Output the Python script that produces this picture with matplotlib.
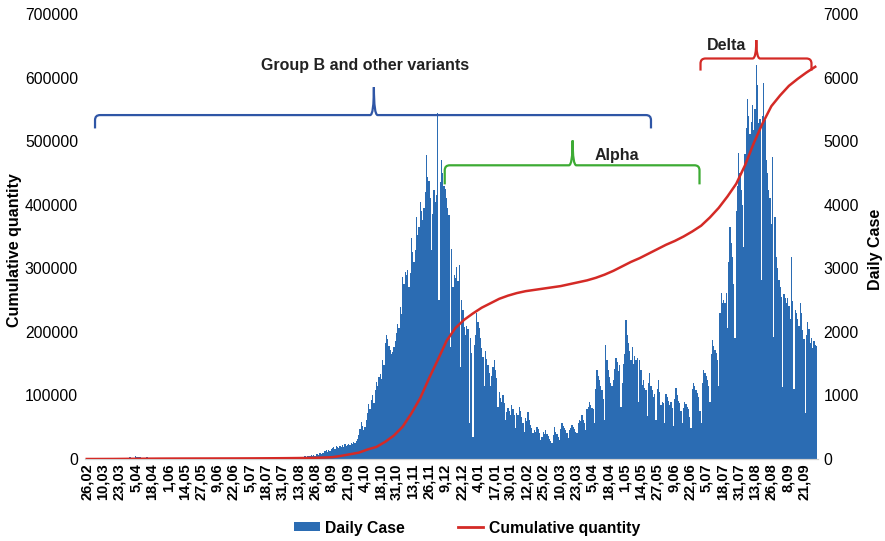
import numpy as np
import matplotlib
matplotlib.use("Agg")
import matplotlib.pyplot as plt
from matplotlib.path import Path
from matplotlib.patches import PathPatch, Patch
from matplotlib.lines import Line2D

plt.rcParams['font.family'] = ['Liberation Sans', 'DejaVu Sans']

# Date labels shown every 13 days along the x axis
tick_labels = [
    "26,02", "10,03", "23,03", "5,04", "18,04", "1,06", "14,05", "27,05", "9,06",
    "22,06", "5,07", "18,07", "31,07", "13,08", "26,08", "8,09", "21,09", "4,10",
    "18,10", "31,10", "13,11", "26,11", "9,12", "22,12", "4,01", "17,01", "30,01",
    "12,02", "25,02", "10,03", "23,03", "5,04", "18,04", "1,05", "14,05", "27,05",
    "9,06", "22,06", "5,07", "18,07", "31,07", "13,08", "26,08", "8,09", "21,09",
]

# Daily new cases, one row per week starting 26 Feb 2020
daily_cases = [
    1, 0, 0, 0, 0, 1, 0,
    0, 1, 2, 3, 2, 5, 4,
    3, 5, 1, 4, 7, 8, 5,
    11, 6, 9, 12, 6, 11, 14,
    20, 16, 11, 23, 19, 21, 24,
    38, 23, 21, 18, 40, 33, 27,
    24, 28, 13, 17, 22, 18, 25,
    14, 18, 21, 10, 12, 17, 13,
    9, 12, 8, 14, 10, 7, 11,
    6, 8, 5, 10, 3, 7, 9,
    4, 6, 3, 5, 8, 2, 4,
    9, 3, 5, 2, 7, 4, 6,
    5, 8, 2, 6, 4, 3, 7,
    3, 2, 5, 4, 1, 6, 2,
    4, 3, 6, 2, 5, 3, 4,
    2, 5, 3, 7, 4, 2, 6,
    6, 3, 4, 8, 5, 3, 2,
    5, 9, 4, 6, 3, 7, 8,
    11, 6, 8, 5, 9, 12, 7,
    8, 10, 14, 9, 12, 7, 11,
    13, 9, 15, 11, 18, 10, 14,
    12, 16, 10, 19, 14, 11, 17,
    15, 21, 13, 18, 24, 16, 20,
    22, 18, 27, 19, 25, 30, 21,
    26, 33, 24, 38, 29, 35, 41,
    36, 44, 52, 40, 58, 47, 63,
    55, 71, 84, 66, 93, 78, 102,
    96, 120, 135, 110, 148, 128, 160,
    172, 190, 165, 204, 185, 178, 210,
    196, 215, 188, 230, 205, 224, 240,
    226, 252, 238, 270, 245, 290, 310,
    380, 470, 580, 520, 455, 500, 610,
    720, 860, 790, 930, 1010, 880, 1080,
    1210, 1150, 1290, 1340, 1260, 1560, 1480,
    1820, 1950, 1890, 1780, 1710, 1650, 1690,
    1760, 1850, 1980, 2120, 2060, 2390, 2280,
    2860, 2750, 2940, 2890, 2980, 2700, 2920,
    3470, 3250, 3100, 3280, 3800, 3520, 3650,
    4040, 3900, 3760, 3950, 4200, 4780, 4430,
    4380, 4100, 3290, 3850, 4230, 4050, 4150,
    5440, 2500, 4350, 4700, 4500, 4300, 4250,
    4100, 3950, 3840, 1760, 3300, 2700, 2900,
    2850, 3020, 2800, 3050, 1450, 2500, 2350,
    2080, 1950, 2100, 2050, 570, 1900, 1670,
    350, 1800, 1950, 2290, 2150, 2060, 1900,
    1750, 1600, 1150, 1700, 1570, 1480, 1350,
    1150, 1300, 1450, 1560, 1400, 1280, 820,
    1050, 960, 900, 1000, 880, 620, 740,
    800, 760, 700, 850, 780, 690, 480,
    720, 700, 820, 750, 660, 570, 420,
    640, 600, 740, 620, 540, 480, 410,
    460, 430, 500, 470, 410, 300, 350,
    420, 400, 450, 390, 360, 320, 280,
    250, 380, 500, 430, 390, 350, 300,
    470, 570, 520, 480, 450, 410, 330,
    460, 480, 530, 500, 470, 420, 410,
    560, 620, 600, 690, 620, 570, 450,
    780, 820, 900, 850, 800, 780, 560,
    1100, 1400, 1300, 1250, 1150, 1080, 950,
    620, 1790, 1550, 1400, 1290, 1200, 1150,
    1250, 1420, 1590, 1520, 1380, 1480, 820,
    1200, 1500, 1650, 2180, 1950, 1820, 1700,
    1560, 1760, 1500, 1620, 1550, 1590, 900,
    1560, 1400, 1160, 1250, 1120, 1080, 680,
    1200, 1350, 1150, 1080, 980, 1030, 620,
    1100, 1240, 1050, 850, 900, 880, 560,
    1030, 980, 920, 850, 900, 800, 520,
    950, 1120, 1000, 920, 880, 750, 560,
    800, 900, 870, 820, 780, 660, 480,
    1100, 1190, 1150, 1080, 1040, 980, 760,
    570, 1200, 1400, 1350, 1300, 1250, 1150,
    900, 1650, 1870, 1780, 1720, 1660, 1550,
    1150, 2300, 2610, 2450, 2500, 2450, 2610,
    2060, 3100, 3650, 3400, 3180, 2760, 1900,
    3900, 4300, 4810, 4500, 4230, 4000, 3330,
    4800, 5200, 5670, 5400, 5120, 5300, 5570,
    5170, 5500, 6190, 5880, 5290, 5350, 2810,
    5400, 5910, 5330, 4700, 4500, 4230, 4100,
    3700, 4750, 1920, 3800, 3180, 3000, 2810,
    2700, 2550, 1130, 2600, 2530, 2450, 2530,
    2400, 2200, 3180, 2480, 1100, 2350, 2290,
    2200, 2100, 2450, 2300, 2030, 1880, 720,
    1950, 2150, 2050, 1820, 1900, 1750, 1850,
    1800, 1780,
]

# Cumulative total at the start of each week
cumulative_weekly = [
    0, 3, 30, 70, 160, 300, 420, 530, 600, 660,
    700, 730, 760, 790, 810, 840, 870, 900, 950, 1000,
    1070, 1150, 1230, 1340, 1480, 1650, 1900, 2300, 2900, 5000,
    7500, 10000, 15000, 19000, 27000, 37000, 51000, 72000, 96000, 127000,
    156000, 186000, 206000, 219000, 229000, 238000, 245000, 252000, 257000, 261000,
    264000, 266000, 268000, 270000, 272000, 275000, 278000, 281000, 285000, 290000,
    296000, 303000, 310000, 316000, 323000, 330000, 337000, 343000, 350000, 358000,
    367000, 380000, 395000, 413000, 433000, 462000, 497000, 528000, 555000, 572000,
    587000, 598000, 608000, 617000,
]

variant_names = ["Group B and other variants", "Alpha", "Delta"]
variant_colors = ["#2f56a6", "#3dab34", "#d42a26"]

BAR_COLOR = "#2b6cb3"
LINE_COLOR = "#d42a26"

days = np.arange(len(daily_cases))
week_days = np.arange(len(cumulative_weekly)) * 7
tick_pos = np.arange(len(tick_labels)) * 13

fig = plt.figure(figsize=(8.85, 5.41), dpi=100)
ax = fig.add_axes([85 / 885, 82 / 541, 733 / 885, 445 / 541])

# Daily bars use the right-hand scale
ax.bar(days, daily_cases, width=1.0, color=BAR_COLOR, linewidth=0, zorder=2)
ax.set_ylim(0, 7000)
ax.set_yticks(np.arange(0, 7001, 1000))
ax.set_xlim(-1.4, 583.2)
ax.set_xticks(tick_pos)
ax.set_xticklabels(tick_labels, rotation=90, fontsize=10.5, fontweight="bold")

# Cumulative line uses the left-hand scale
ax2 = ax.twinx()
ax2.plot(week_days, cumulative_weekly, color=LINE_COLOR, linewidth=1.8, zorder=5)
ax2.set_ylim(0, 700000)
ax2.set_yticks(np.arange(0, 700001, 100000))
ax2.set_xlim(ax.get_xlim())

# Put the scales on their sides after the twin axes is created
ax.yaxis.tick_right()
ax.yaxis.set_label_position("right")
ax2.yaxis.tick_left()
ax2.yaxis.set_label_position("left")
ax2.yaxis.set_offset_position("left")

ax.set_ylabel("Daily Case", fontsize=11.5, fontweight="bold", rotation=90)
ax.yaxis.set_label_coords(1.068, 0.47)
ax2.set_ylabel("Cumulative quantity", fontsize=11.5, fontweight="bold")
ax2.yaxis.set_label_coords(-0.086, 0.47)

ax.tick_params(axis="both", length=0)
ax.tick_params(axis="x", pad=3)
ax.tick_params(axis="y", labelsize=11.3, pad=4, labelleft=False, labelright=True)
ax2.tick_params(axis="both", length=0)
ax2.tick_params(axis="y", labelsize=11.3, pad=5, labelleft=True, labelright=False)

for a in (ax, ax2):
    for side in ("top", "left", "right"):
        a.spines[side].set_visible(False)
    a.spines["bottom"].set_color("#d0d0d0")
    a.spines["bottom"].set_linewidth(0.8)


def brace(axis, x0, x1, xm, y, y_end, y_tip, color, rx=4.0, ry=8000, dx=3.0):
    """Horizontal curly bracket with turned-down ends and a raised tip."""
    verts = [
        (x0, y_end), (x0, y - ry),
        (x0, y), (x0 + rx, y),
        (xm - dx, y),
        (xm, y), (xm, y_tip),
        (xm, y), (xm + dx, y),
        (x1 - rx, y),
        (x1, y), (x1, y - ry),
        (x1, y_end),
    ]
    codes = [
        Path.MOVETO, Path.LINETO,
        Path.CURVE3, Path.CURVE3,
        Path.LINETO,
        Path.CURVE3, Path.CURVE3,
        Path.CURVE3, Path.CURVE3,
        Path.LINETO,
        Path.CURVE3, Path.CURVE3,
        Path.LINETO,
    ]
    axis.add_patch(PathPatch(Path(verts, codes), facecolor="none",
                             edgecolor=color, linewidth=1.6, zorder=6,
                             clip_on=False))


brace(ax2, 6.6, 450, 229, 541000, 520000, 585000, variant_colors[0])
brace(ax2, 285.5, 488.7, 387.5, 462000, 432000, 501000, variant_colors[1])
brace(ax2, 489.5, 578, 534, 630000, 611000, 659000, variant_colors[2])

ax2.text(222, 619000, variant_names[0], ha="center", va="center",
         fontsize=11.5, fontweight="bold", color="#222222")
ax2.text(423, 478000, variant_names[1], ha="center", va="center",
         fontsize=11.5, fontweight="bold", color="#222222")
ax2.text(510, 651000, variant_names[2], ha="center", va="center",
         fontsize=11.5, fontweight="bold", color="#222222")

handles = [
    Patch(facecolor=BAR_COLOR, edgecolor="none"),
    Line2D([0], [0], color=LINE_COLOR, linewidth=2),
]
fig.legend(handles, ["Daily Case", "Cumulative quantity"], loc="center",
           bbox_to_anchor=(0.528, 0.024), ncol=2, frameon=False,
           prop={"weight": "bold", "size": 11.3}, handlelength=1.6,
           handleheight=0.5, handletextpad=0.35, columnspacing=3.4)

fig.savefig("out.png", dpi=100)
